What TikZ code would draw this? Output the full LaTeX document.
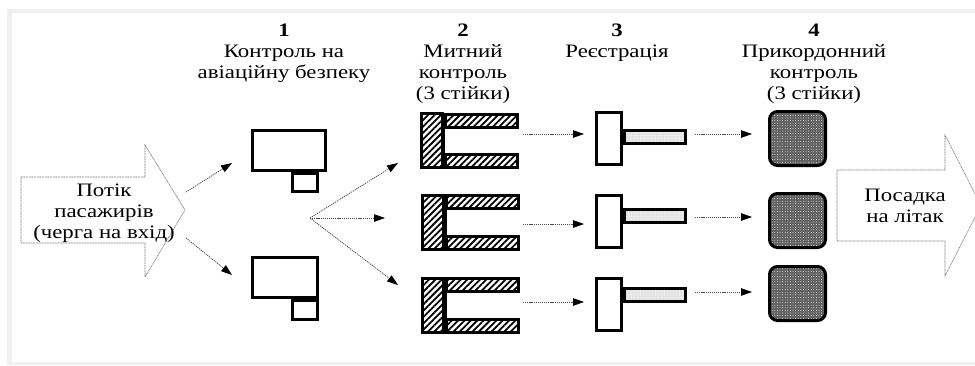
\documentclass[tikz,border=0pt]{standalone}
\usepackage{fontspec}
\setmainfont{Liberation Serif}[FakeStretch=1.2]
\usetikzlibrary{arrows.meta,patterns.meta}
\begin{document}
\begin{tikzpicture}[x=1pt,y=-1pt,
  lbl/.style={font=\fontsize{19}{21}\selectfont, align=center, inner sep=0pt, anchor=north, text=black},
  thick3/.style={line width=3pt, draw=black},
  flow/.style={draw=black!70, line width=0.8pt, dash pattern=on 1.2pt off 0.9pt, -{Triangle[length=11pt,width=7.5pt,color=black,fill=black]}},
  bigarrow/.style={draw=black!55, line width=0.6pt, dash pattern=on 1pt off 0.6pt, fill=white},
  secbox/.style={thick3, rectangle, inner sep=0pt, fill=white},
  hatchbox/.style={thick3, rectangle, inner sep=0pt, pattern={Lines[angle=45,distance=4.5pt,line width=1.8pt]}},
  regpost/.style={thick3, rectangle, inner sep=0pt, fill=white, minimum width=25pt, minimum height=52pt},
  regbar/.style={thick3, rectangle, inner sep=0pt, minimum width=61pt, minimum height=13pt, preaction={fill=black!8}, pattern={Dots[distance=3pt,radius=0.45pt]}, pattern color=black!60},
  border/.style={thick3, rectangle, rounded corners=8pt, inner sep=0pt, minimum width=56pt, minimum height=54pt, preaction={fill=black!62}, pattern={Dots[distance=2.6pt,radius=0.45pt]}, pattern color=white}
]
\useasboundingbox (0,0) rectangle (975,365);
% page frame
\fill[black!6] (7,9) rectangle (975,365);
\fill[white] (12,13) rectangle (975,362);

% big arrows
\path[bigarrow] (21,177) -- (145,177) -- (145,145) -- (185,210) -- (145,277) -- (145,243) -- (21,243) -- cycle;
\begin{scope}
\clip (0,0) rectangle (975,365);
\path[bigarrow] (837,170) -- (945,170) -- (945,135) -- (981,205.5) -- (945,276) -- (945,241) -- (837,241) -- cycle;
\end{scope}
\node[lbl] (start) at (104,184) {Потік\\пасажирів\\(черга на вхід)};
\node[lbl] (board) at (905,189) {Посадка\\на літак};

% headers
\node[lbl] (h1) at (284,24) {\textbf{1}\\Контроль на\\авіаційну безпеку};
\node[lbl] (h2) at (463,24) {\textbf{2}\\Митний\\контроль\\(3 стійки)};
\node[lbl] (h3) at (617,24) {\textbf{3}\\Реєстрація};
\node[lbl] (h4) at (814,24) {\textbf{4}\\Прикордонний\\контроль\\(3 стійки)};

% stage 1: security
\node[secbox, minimum width=73pt, minimum height=40pt] (s1) at (289,150.5) {};
\node[secbox, minimum width=25pt, minimum height=18pt, anchor=north east] (s1b) at ([xshift=-8pt]s1.south east) {};
\node[secbox, minimum width=65pt, minimum height=40pt] (s2) at (285,277) {};
\node[secbox, minimum width=25pt, minimum height=19pt, anchor=north east] (s2b) at (s2.south east) {};
\coordinate (in1) at (186,192);
\coordinate (in2) at (186,238);
\draw[flow] (in1) -- (232,163);
\draw[flow] (in2) -- (232,275);
\coordinate (fan) at (310,218);
\draw[flow] (fan) -- (398,163);
\draw[flow] (fan) -- (385,218);
\draw[flow] (fan) -- (398,285);

% stage 2: customs
\foreach \i/\y in {1/112, 2/193, 3/276} {
  \node[hatchbox, minimum width=21pt, minimum height=54pt, anchor=north west] (cl\i) at (421,\y+1) {};
  \node[hatchbox, minimum width=72pt, minimum height=13pt, anchor=north west] (ct\i) at (cl\i.north east) {};
  \node[hatchbox, minimum width=72pt, minimum height=13pt, anchor=south west] (cb\i) at (cl\i.south east) {};
  \draw[line width=3pt] (cl\i.north east) -- (cl\i.south east);
}

% stage 3: registration
\foreach \i/\y/\b in {1/138.5/137, 2/221/215.5, 3/304.5/294.5} {
  \node[regpost] (r\i) at (609,\y) {};
  \node[regbar, anchor=west] (rb\i) at (r\i.east |- 0,\b) {};
}

% stage 4: border
\node[border] (b1) at (797.5,138.5) {};
\node[border] (b2) at (797.5,220.5) {};
\node[border] (b3) at (797.5,293.5) {};

% connectors customs -> registration -> border
\coordinate (c1o) at (523,134); \coordinate (c2o) at (523,224); \coordinate (c3o) at (523,302);
\draw[flow, shorten >=11pt] (c1o) -- (c1o -| r1.west);
\draw[flow, shorten >=11pt] (c2o) -- (c2o -| r2.west);
\draw[flow, shorten >=11pt] (c3o) -- (c3o -| r3.west);
\coordinate (g1o) at (695,134); \coordinate (g2o) at (695,217); \coordinate (g3o) at (695,292);
\draw[flow, shorten >=16pt] (g1o) -- (g1o -| b1.west);
\draw[flow, shorten >=16pt] (g2o) -- (g2o -| b2.west);
\draw[flow, shorten >=16pt] (g3o) -- (g3o -| b3.west);
\end{tikzpicture}
\end{document}
